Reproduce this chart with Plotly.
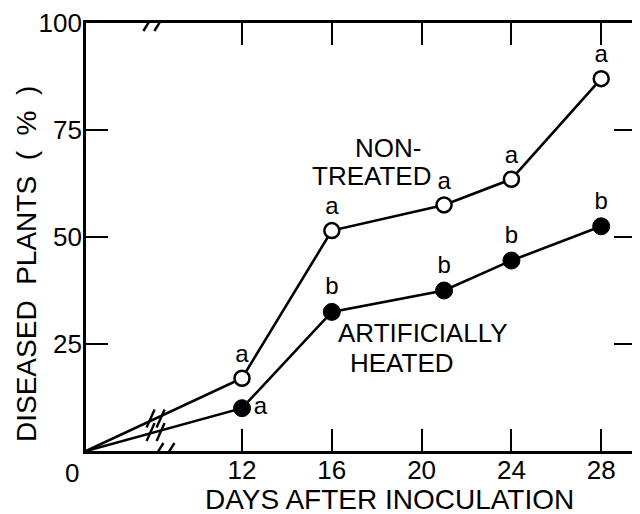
import plotly.graph_objects as go

# ---- data ----
days = [0, 12, 16, 21, 24, 28]
non_treated = [0, 17, 51.5, 57.5, 63.5, 87]
heated = [0, 10, 32.5, 37.5, 44.5, 52.5]
non_treated_letters = ["", "a", "a", "a", "a", "a"]
heated_letters = ["", "a", "b", "b", "b", "b"]
x_tick_days = [12, 16, 20, 24, 28]
y_ticks = [25, 50, 75, 100]

# ---- broken x scale: 0..12 days compressed ----
ORIGIN_POS = 5.05
BREAK_DAY = 12
X_MAX = 29.55
BREAK_POS = 8.5


def to_axis(d):
    if d >= BREAK_DAY:
        return d
    return ORIGIN_POS + d * (BREAK_DAY - ORIGIN_POS) / BREAK_DAY


xs = [to_axis(d) for d in days]
FONT = "Liberation Sans"
BLACK = "#000000"

# page has an 8px body margin: figure is drawn 8px right/down of the window origin
OFF = 8
W, H = 640 - OFF, 514 - OFF
# target plot box in window pixels: left 86, right 636, top 23, bottom 451
L, R, T, B = 86 - OFF, W - (636 - OFF), 23 - OFF, H - (451 - OFF)
pw, ph = W - L - R, H - T - B


def px_to_paper(sx, sy):
    return (sx - OFF - L) / pw, (H - B - (sy - OFF)) / ph


fig = go.Figure()

fig.add_trace(go.Scatter(
    x=xs, y=non_treated, mode="lines+markers+text",
    text=non_treated_letters,
    textposition="top center",
    textfont=dict(family=FONT, size=24, color=BLACK),
    line=dict(color=BLACK, width=2.6),
    marker=dict(symbol="circle", size=[0, 15, 15, 15, 15, 15], color="white", opacity=1,
                line=dict(color=BLACK, width=2.5)),
    cliponaxis=False, showlegend=False, name="NON-TREATED"))

fig.add_trace(go.Scatter(
    x=xs, y=heated, mode="lines+markers+text",
    text=heated_letters,
    textposition=["top center", "middle right", "top center", "top center", "top center", "top center"],
    textfont=dict(family=FONT, size=24, color=BLACK),
    line=dict(color=BLACK, width=2.6),
    marker=dict(symbol="circle", size=[0, 17, 17, 17, 17, 17], color=BLACK, opacity=1,
                line=dict(color=BLACK, width=1)),
    cliponaxis=False, showlegend=False, name="ARTIFICIALLY HEATED"))

shapes = []
# axis break marks (bottom and top)
for yv in (0, 100):
    for dx in (-5, 6):
        shapes.append(dict(type="line", xref="x", yref="y", xsizemode="pixel", ysizemode="pixel",
                           xanchor=BREAK_POS + (0 if yv == 0 else -0.45), yanchor=yv,
                           x0=dx - 5, x1=dx + 5, y0=-8, y1=8,
                           line=dict(color=BLACK, width=2.4)))
# break marks across the two early line segments
for series in (non_treated, heated):
    frac = (BREAK_POS - 0.35 - ORIGIN_POS) / (BREAK_DAY - ORIGIN_POS)
    yv = series[0] + frac * (series[1] - series[0])
    for dx in (-5, 5):
        shapes.append(dict(type="line", xref="x", yref="y", xsizemode="pixel", ysizemode="pixel",
                           xanchor=BREAK_POS - 0.35, yanchor=yv,
                           x0=dx - 4, x1=dx + 4, y0=-9, y1=9,
                           line=dict(color=BLACK, width=2.4)))

anns = []
for text, sx, sy in [("NON-", 388, 148), ("TREATED", 371, 176),
                     ("ARTIFICIALLY", 423, 333), ("HEATED", 402, 363)]:
    x, y = px_to_paper(sx, sy)
    anns.append(dict(text=text, x=x, y=y, xref="paper", yref="paper", showarrow=False,
                     xanchor="center", yanchor="middle", borderpad=0,
                     font=dict(family=FONT, size=26, color=BLACK)))
anns.append(dict(text="0", x=ORIGIN_POS, y=0, xref="x", yref="y", xshift=-14, yshift=-22,
                 xanchor="center", yanchor="middle",
                 showarrow=False, font=dict(family=FONT, size=26, color=BLACK)))
x, y = px_to_paper(389, 500)
anns.append(dict(text="DAYS AFTER INOCULATION", x=x, y=y, xref="paper", yref="paper",
                 showarrow=False, xanchor="center", yanchor="middle",
                 font=dict(family=FONT, size=28, color=BLACK)))
x, y = px_to_paper(26, 264)
anns.append(dict(text="DISEASED\u00a0 PLANTS\u00a0 (\u00a0\u00a0%\u00a0\u00a0)", x=x, y=y,
                 xref="paper", yref="paper",
                 showarrow=False, textangle=-90, xanchor="center", yanchor="middle",
                 font=dict(family=FONT, size=28, color=BLACK)))

fig.update_layout(
    width=W, height=H,
    margin=dict(l=L, r=R, t=T, b=B, autoexpand=False),
    paper_bgcolor="white", plot_bgcolor="white",
    shapes=shapes, annotations=anns,
    xaxis=dict(range=[ORIGIN_POS, X_MAX], tickvals=[to_axis(d) for d in x_tick_days],
               ticktext=[str(d) for d in x_tick_days],
               ticks="inside", ticklen=22, tickwidth=2.2, tickcolor=BLACK,
               showline=True, linecolor=BLACK, linewidth=2.8, mirror="ticks",
               showgrid=False, zeroline=False, ticklabelstandoff=-6,
               tickfont=dict(family=FONT, size=26, color=BLACK)),
    yaxis=dict(range=[0, 100], tickvals=y_ticks, ticks="inside", ticklen=22, tickwidth=2.2,
               tickcolor=BLACK, showline=True, linecolor=BLACK, linewidth=2.8, mirror="ticks",
               showgrid=False, zeroline=False, ticklabelstandoff=-4,
               tickfont=dict(family=FONT, size=26, color=BLACK)),
)

fig.write_html("out.html")
